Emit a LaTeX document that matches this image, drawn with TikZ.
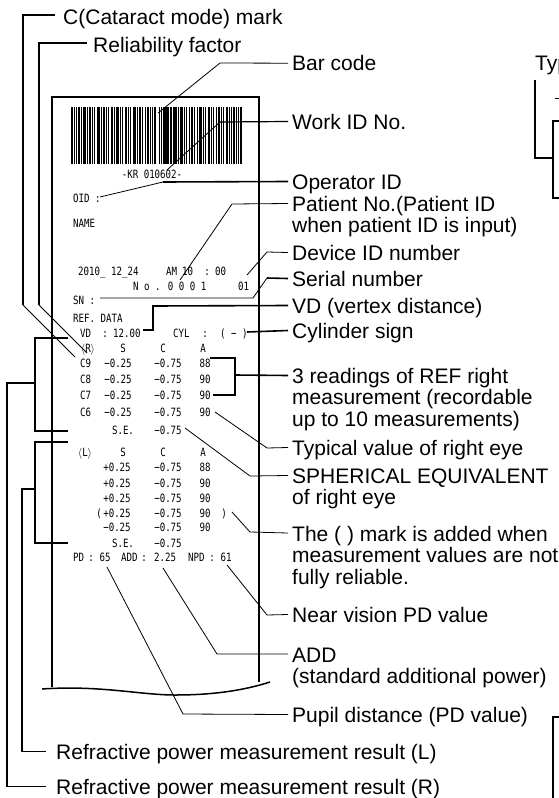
\documentclass[tikz,border=0pt]{standalone}
\usepackage{fontspec}
\setmainfont{Liberation Sans}
\newfontfamily\slipf[FakeStretch=0.8]{DejaVu Sans Mono}
\begin{document}
\begin{tikzpicture}[x=1pt,y=-1pt,
  lab/.style={anchor=base west, inner sep=0pt, align=left, font=\fontsize{21}{21.5}\selectfont},
  sl/.style={inner sep=0pt, anchor=base, font=\slipf\fontsize{11.4}{12}\selectfont},
  slw/.style={sl, anchor=base west},
  cthin/.style={line width=0.8pt},
  cthick/.style={line width=1.6pt},
  border/.style={line width=1.2pt},
  line join=miter]
\useasboundingbox (0,0) rectangle (558,798);
\fill[white] (0,0) rectangle (558,798);

% ---------- slip ----------
\draw[border] (52,687) -- (52,97) -- (259,97) -- (259,682);
\draw[line width=1.5pt] (42,689) .. controls (100,685) and (140,695) .. (175,695)
   .. controls (215,695) and (245,690) .. (270,682);

% bar code
\foreach \x/\w in {71/2,74/1,76/1,78/2,81/1,83/3,87/1,89/2,92/1,94/1,97/3,101/1,103/2,106/1,108/1,111/2,114/1,116/3,120/1,122/1,125/2,128/1,130/1,133/3,137/1,139/2,142/1,145/1,147/2,150/1,152/1,154/2,159/1,161/1,163/6,170/2,173/4,178/1,180/3,184/1,186/1,189/1,191/2,194/1,197/1,199/3,203/1,205/1,208/2,211/1,213/1,216/1,218/2,221/1,223/1,226/2,229/1,231/1,233/2,236/1,238/1,240/2}
  \fill[black] (\x,107) rectangle ++(\w,57);

% slip texts
\node[sl] (kr) at (152,178) {-KR 010602-};
\node[slw] (oid) at (73,202) {OID :};
\node[slw] (nm) at (73,227) {NAME};
\node[slw] (date) at (78,275) {2010\_ 12\_24};
\node[slw] (am) at (166,275) {AM};
\node[slw] (hr) at (182,275) {10};
\node[sl] (tcol) at (207,275) {:};
\node[slw] (mn) at (215,275) {00};
\node[slw] (pno) at (133,290) {N o . 0 0 0 1};
\node[slw] (dno) at (238,290) {01};
\node[slw] (sn) at (73,304) {SN :};
\node[slw] (refd) at (73,322) {REF. DATA};
\node[slw] (vd) at (80,337) {VD};
\node[sl] (vdc) at (105,337) {:};
\node[slw] (vdv) at (113,337) {12.00};
\node[slw] (cyl) at (173,337) {CYL};
\node[sl] (cylc) at (205,337) {:};
\node[slw] (cylv) at (220,337) {( − )};
\node[sl] (hR) at (88,352) {$\langle$R$\rangle$};
\node[sl] (hRS) at (123,352) {S};
\node[sl] (hRC) at (163,352) {C};
\node[sl] (hRA) at (203,352) {A};
\foreach \n/\yy/\a in {9/367/88, 8/383/90, 7/399/90, 6/416/90} {
  \node[slw] (c\n) at (80,\yy) {C\n};
  \node[sl] (s\n) at (118,\yy) {−0.25};
  \node[sl] (cc\n) at (168,\yy) {−0.75};
  \node[sl] (a\n) at (205,\yy) {\a};
}
\node[sl] (seR) at (123,434) {S.E.};
\node[sl] (seRv) at (168,434) {−0.75};
\node[sl] (hL) at (85,456) {$\langle$L$\rangle$};
\node[sl] (hLS) at (123,456) {S};
\node[sl] (hLC) at (163,456) {C};
\node[sl] (hLA) at (203,456) {A};
\foreach \k/\yy/\s/\a in {1/471/+0.25/88, 2/487/+0.25/90, 3/502/+0.25/90, 4/517/+0.25/90, 5/531/−0.25/90} {
  \node[sl] (ls\k) at (117,\yy) {\s};
  \node[sl] (lc\k) at (168,\yy) {−0.75};
  \node[sl] (la\k) at (205,\yy) {\a};
}
\node[sl] (lpar) at (99,517) {(};
\node[sl] (rpar) at (224,517) {)};
\node[sl] (seL) at (123,547) {S.E.};
\node[sl] (seLv) at (168,547) {−0.75};
\node[slw] (pd) at (73,561) {PD};
\node[sl] (pdc) at (91,561) {:};
\node[sl] (pdv) at (105,561) {65};
\node[slw] (add) at (121,561) {ADD};
\node[sl] (addc) at (144,561) {:};
\node[slw] (addv) at (154,561) {2.25};
\node[slw] (npd) at (188,561) {NPD};
\node[sl] (npdc) at (212,561) {:};
\node[sl] (npdv) at (226,561) {61};

% ---------- labels (multi-line nodes: base = last line) ----------
\node[lab] (cmark) at (63,24) {C(Cataract mode) mark};
\node[lab] (relia) at (93,52) {Reliability factor};
\node[lab] (barc) at (292,70.7) {Bar code};
\node[lab] (work) at (292,129) {Work ID No.};
\node[lab] (oper) at (292,189) {Operator ID};
\node[lab] (pat) at (292,232.5) {Patient No.(Patient ID\\when patient ID is input)};
\node[lab] (devid) at (292,260) {Device ID number};
\node[lab] (serial) at (292,286) {Serial number};
\node[lab] (vdl) at (292,313) {VD (vertex distance)};
\node[lab] (cylsign) at (292,338) {Cylinder sign};
\node[lab] (three) at (292,426) {3 readings of REF right\\measurement (recordable\\up to 10 measurements)};
\node[lab] (typv) at (292,455) {Typical value of right eye};
\node[lab] (sph) at (292,504.5) {SPHERICAL EQUIVALENT\\of right eye};
\node[lab] (paren) at (292,584) {The ( ) mark is added when\\measurement values are not\\fully reliable.};
\node[lab] (npdl) at (292,622) {Near vision PD value};
\node[lab] (addl) at (292,683.5) {ADD\\(standard additional power)};
\node[lab] (pdl) at (292,722) {Pupil distance (PD value)};
\node[lab] (refL) at (56,759) {Refractive power measurement result (L)};
\node[lab] (refR) at (56,794) {Refractive power measurement result (R)};
\node[lab] (typ) at (535,70.7) {Typ};

% ---------- connector start points ----------
\coordinate (pC) at (75,357);
\coordinate (pRel) at (87,353);
\coordinate (pBar) at (158,113);
\coordinate (pWork) at (167,170);
\coordinate (pOid) at (100,197);
\coordinate (pPat) at (180,280);
\coordinate (pDev) at (247,275);
\coordinate (pSn) at (100,298);
\coordinate (pVd) at (143,330);
\coordinate (pCyl) at (247,332);
\coordinate (pR1) at (210,358);
\coordinate (pR3) at (213,395);
\coordinate (pTyp) at (215,412);
\coordinate (pSe) at (185,428);
\coordinate (pPar) at (232,512);
\coordinate (pNpd) at (227,565);
\coordinate (pAdd) at (163,568);
\coordinate (pPd) at (107,567);

% ---------- connectors ----------
\draw[cthin] (pC) -- (23,305);
\draw[cthick] (23,305) |- ([xshift=-8pt,yshift=9pt]cmark.base west);
\draw[cthin] (pRel) -- (39,305);
\draw[cthick] (39,305) |- ([xshift=-6pt,yshift=9pt]relia.base west);
\draw[cthin] (pBar) -- (220,63) -- ([xshift=-4pt,yshift=7.5pt]barc.base west);
\draw[cthin] (pWork) -- (220,122);
\draw[line width=1.2pt] (220,122) -- ([xshift=-4pt,yshift=7.5pt]work.base west);
\draw[cthin] (pOid) -- (163,182);
\draw[cthick] (163,182) -- ([xshift=-4pt,yshift=7.5pt]oper.base west);
\draw[cthin] (pPat) -- (232,204) -- ([xshift=-4pt,yshift=29pt]pat.base west);
\draw[cthin] (pDev) -- (267,252) -- ([xshift=-4pt,yshift=7.5pt]devid.base west);
\draw[cthin] (pSn) -- (253,298) -- (267,278);
\draw[cthick] (267,278) -- ([xshift=-4pt,yshift=7.5pt]serial.base west);
\draw[cthick] (pVd) -- (153,330) -- (153,306) -- ([xshift=-4pt,yshift=7.5pt]vdl.base west);
\draw[cthick] (pCyl) -- ([xshift=-4pt,yshift=7.5pt]cylsign.base west);
\draw[cthick] (pR1) -- (235,358) -- (235,395) -- (pR3);
\draw[cthick] (235,375) -- ([xshift=-4pt,yshift=50.5pt]three.base west);
\draw[cthin] (pTyp) -- (267,448) -- ([xshift=-4pt,yshift=7.5pt]typv.base west);
\draw[cthin] (pSe) -- (250,476) -- ([xshift=-4pt,yshift=29pt]sph.base west);
\draw[cthin] (pPar) -- (250,532) -- ([xshift=-4pt,yshift=51pt]paren.base west);
\draw[cthin] (pNpd) -- (267,615) -- ([xshift=-4pt,yshift=7.5pt]npdl.base west);
\draw[cthin] (pAdd) -- (217,654) -- ([xshift=-4pt,yshift=29.5pt]addl.base west);
\draw[cthin] (pPd) -- (183,714) -- ([xshift=-4pt,yshift=7.5pt]pdl.base west);
% L bracket
\draw[cthick] (68,442) -- (35,442) -- (35,543) -- (68,543);
\draw[cthick] (35,489) -- (22,489) |- ([xshift=-10pt,yshift=7.5pt]refL.base west);
% R bracket
\draw[cthick] (68,338) -- (35,338) -- (35,431) -- (68,431);
\draw[cthick] (35,383) -- (7,383) |- ([xshift=-10pt,yshift=7.5pt]refR.base west);
% top right partial
\coordinate (typA) at (535,80);
\draw[cthick] (typA) -- (535,158) -- (553,158);
\draw[cthick] (560,121) -- (553,121) -- (553,198) -- (560,198);
\draw[cthin] (555,98) -- (560,98);
% bottom right partial
\draw[cthick] (560,717) -- (553,717) -- (553,800);
\end{tikzpicture}
\end{document}
